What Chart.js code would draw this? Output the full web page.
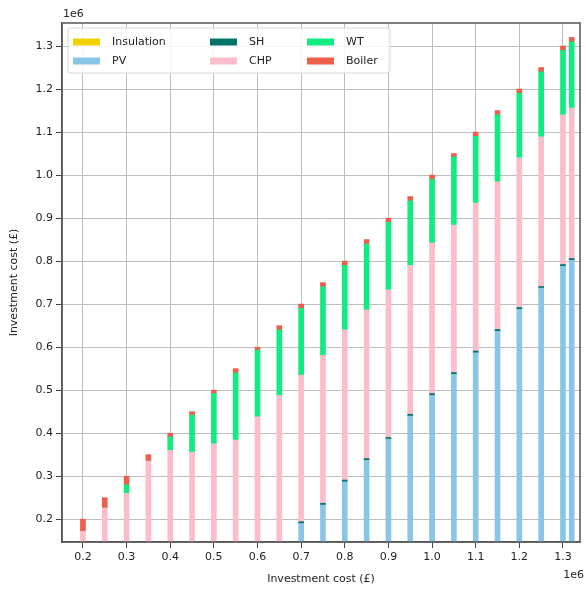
<!DOCTYPE html>
<html>
<head>
<meta charset="utf-8">
<script src="https://cdn.jsdelivr.net/npm/chart.js@4.4.0/dist/chart.umd.min.js"></script>
<style>
html, body { margin: 0; padding: 0; background: #fff; }
#wrap { width: 586px; height: 590px; }
</style>
</head>
<body>
<div id="wrap"><canvas id="costChart" width="586" height="590"></canvas></div>
<script>
// investment budget per run (£)
const budgets = [200000, 250000, 300000, 350000, 400000, 450000, 500000, 550000, 600000, 650000, 700000, 750000,
    800000, 850000, 900000, 950000, 1000000, 1050000, 1100000, 1150000, 1200000, 1250000, 1300000, 1320000];

// cost per technology (£), stacked bottom to top
const insulation = [0, 0, 0, 0, 0, 0, 0, 0, 0, 0, 0, 0, 0, 0, 0, 0, 0, 0, 0, 0, 0, 0, 0, 0];
const pv = [0, 0, 0, 0, 0, 0, 0, 0, 0, 0, 190000, 233000, 287000, 337000, 386000, 440000, 488000, 537000,
    587000, 637000, 688000, 737000, 788000, 802000];
const sh = [0, 0, 0, 0, 0, 0, 0, 0, 0, 0, 4000, 4000, 4000, 4000, 4000, 4000, 4000, 4000, 4000, 4000, 4000,
    4000, 4000, 4000];
const chp = [172000, 226000, 260000, 335000, 360000, 356000, 375000, 384000, 438000, 488000, 341000, 344000,
    349000, 345000, 343000, 346000, 350000, 343000, 344000, 343000, 348000, 348000, 348000, 350000];
const wt = [0, 0, 20000, 0, 31000, 86000, 117000, 156000, 155000, 152000, 155000, 159000, 150000, 154000,
    157000, 150000, 148000, 158000, 155000, 156000, 150000, 151000, 150000, 154000];
const boiler = [28000, 24000, 20000, 15000, 9000, 8000, 8000, 10000, 7000, 10000, 10000, 10000, 10000, 10000,
    10000, 10000, 10000, 8000, 10000, 10000, 10000, 10000, 10000, 10000];

const tickValues = [200000, 300000, 400000, 500000, 600000, 700000, 800000, 900000, 1000000, 1100000, 1200000, 1300000];

const FONT = "'DejaVu Sans', sans-serif";

function toPoints(values) {
    return budgets.map((b, i) => ({ x: b, y: values[i] }));
}

const series = [
    { label: "Insulation", values: insulation, color: "#f2d100" },
    { label: "PV", values: pv, color: "#87c6e6" },
    { label: "SH", values: sh, color: "#00736a" },
    { label: "CHP", values: chp, color: "#fbbdca" },
    { label: "WT", values: wt, color: "#10ec80" },
    { label: "Boiler", values: boiler, color: "#ee5f4b" }
];

// legend laid out in columns like the original (2 rows x 3 columns)
const gridLegend = {
    id: "gridLegend",
    afterDraw(chart) {
        const ctx = chart.ctx;
        const area = chart.chartArea;
        ctx.save();

        // frame on all four sides
        ctx.strokeStyle = "#555";
        ctx.lineWidth = 1.5;
        ctx.strokeRect(area.left, area.top, area.right - area.left, area.bottom - area.top);

        // legend box
        ctx.beginPath();
        ctx.roundRect(68, 28, 322, 45, 3);
        ctx.fillStyle = "rgba(255,255,255,0.85)";
        ctx.fill();
        ctx.strokeStyle = "#d6d6d6";
        ctx.lineWidth = 1;
        ctx.stroke();

        const colX = [73, 210, 307];
        ctx.font = "11px " + FONT;
        ctx.textBaseline = "middle";
        ctx.textAlign = "left";
        chart.data.datasets.forEach((ds, i) => {
            const x = colX[Math.floor(i / 2)];
            const y = 42 + (i % 2) * 19;
            ctx.fillStyle = ds.backgroundColor;
            ctx.fillRect(x, y - 3.5, 27, 7);
            ctx.fillStyle = "#222";
            ctx.fillText(ds.label, x + 39, y);
        });

        // offset labels
        ctx.fillStyle = "#222";
        ctx.fillText("1e6", 63, 14);
        ctx.textAlign = "right";
        ctx.fillText("1e6", 584, 575);
        ctx.restore();
    }
};

new Chart(document.getElementById("costChart"), {
    type: "bar",
    data: {
        datasets: series.map(s => ({
            label: s.label,
            data: toPoints(s.values),
            backgroundColor: s.color,
            borderWidth: 0,
            barThickness: 5
        }))
    },
    options: {
        responsive: false,
        animation: false,
        layout: { padding: { left: 0, right: 6, top: 23, bottom: 0 } },
        plugins: {
            legend: { display: false },
            tooltip: { enabled: false }
        },
        scales: {
            x: {
                type: "linear",
                stacked: true,
                offset: false,
                min: 152000,
                max: 1339000,
                afterBuildTicks: scale => { scale.ticks = tickValues.map(v => ({ value: v })); },
                afterFit: scale => { scale.height = 48; },
                ticks: {
                    color: "#222",
                    font: { family: FONT, size: 11 },
                    padding: 3,
                    maxRotation: 0,
                    callback: v => (v / 1e6).toFixed(1)
                },
                grid: { offset: false, color: "#bdbdbd", tickColor: "#444", tickLength: 6, lineWidth: 1 },
                border: { color: "#555", width: 1.5 },
                title: {
                    display: true,
                    text: "Investment cost (£)",
                    color: "#222",
                    font: { family: FONT, size: 11 },
                    padding: { top: 0, bottom: 4 }
                }
            },
            y: {
                stacked: true,
                min: 147000,
                max: 1353500,
                afterBuildTicks: scale => { scale.ticks = tickValues.map(v => ({ value: v })); },
                afterFit: scale => { scale.width = 62; },
                ticks: {
                    color: "#222",
                    font: { family: FONT, size: 11 },
                    padding: 3,
                    callback: v => (v / 1e6).toFixed(1)
                },
                grid: { color: "#bdbdbd", tickColor: "#444", tickLength: 6, lineWidth: 1 },
                border: { color: "#555", width: 1.5 },
                title: {
                    display: true,
                    text: "Investment cost (£)",
                    color: "#222",
                    font: { family: FONT, size: 11 },
                    padding: { top: 8, bottom: 0 }
                }
            }
        }
    },
    plugins: [gridLegend]
});
</script>
</body>
</html>
